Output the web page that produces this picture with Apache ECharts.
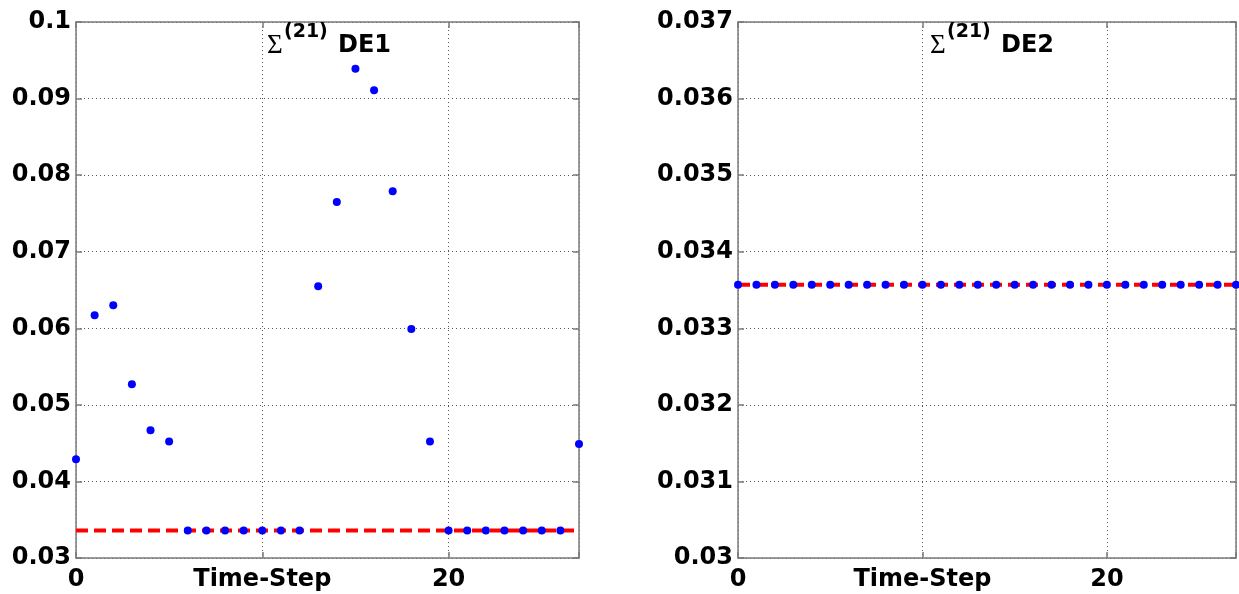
<!DOCTYPE html>
<html>
<head>
<meta charset="utf-8">
<script src="https://cdn.jsdelivr.net/npm/echarts@6/dist/echarts.min.js"></script>
<style>
html,body{margin:0;padding:0;background:#fff;}
#chart{width:1239px;height:594px;}
</style>
</head>
<body>
<div id="chart"></div>
<script>
// ---- data ----
var timeSteps = [0,1,2,3,4,5,6,7,8,9,10,11,12,13,14,15,16,17,18,19,20,21,22,23,24,25,26,27];
var de1Values = [0.0429,0.0617,0.0630,0.0527,0.0467,0.0452,0.0336,0.0336,0.0336,0.0336,0.0336,0.0336,0.0336,
                 0.0655,0.0765,0.0939,0.0911,0.0779,0.0599,0.0452,0.0336,0.0336,0.0336,0.0336,0.0336,0.0336,0.0336,0.0449];
var de2Values = [0.03357,0.03357,0.03357,0.03357,0.03357,0.03357,0.03357,0.03357,0.03357,0.03357,0.03357,0.03357,0.03357,0.03357,
                 0.03357,0.03357,0.03357,0.03357,0.03357,0.03357,0.03357,0.03357,0.03357,0.03357,0.03357,0.03357,0.03357,0.03357];
var de1Reference = [0.0336, 0.0336];
var de2Reference = [0.03357, 0.03357];
var referenceSteps = [0, 27];
var xTickValues = [0, 10, 20];
var xTickLabels = ['0', 'Time-Step', '20'];
var panelTitles = ['DE1', 'DE2'];
var sigmaSymbol = 'Σ';
var sigmaSup = '(21)';

// ---- chart ----
var FONT = 'DejaVu Sans';
var axisColor = '#7a7a7a';

function pairs(xs, ys) { return ys.map(function (v, i) { return [xs[i], v]; }); }
function yFmt(v) { return String(parseFloat(v.toFixed(4))); }
function xFmt(v) {
  var idx = xTickValues.indexOf(Math.round(v));
  return (idx >= 0 && Math.abs(v - xTickValues[idx]) < 1e-9) ? xTickLabels[idx] : '';
}

var grids = [
  { left: 76, right: 660, top: 22, bottom: 36 },
  { left: 738, right: -2, top: 22, bottom: 36 }
];
var yRanges = [
  { min: 0.03, max: 0.1, interval: 0.01 },
  { min: 0.03, max: 0.037, interval: 0.001 }
];

var xAxes = [], yAxes = [], series = [], graphics = [];
grids.forEach(function (g, gi) {
  var axLine = { show: true, onZero: false, lineStyle: { color: axisColor, width: 1.5 } };
  var tick = { show: true, inside: true, length: 6, lineStyle: { color: axisColor, width: 1.5 } };
  xAxes.push({
    type: 'value', gridIndex: gi, position: 'bottom', min: 0, max: 27, interval: 10,
    axisLine: axLine, axisTick: tick,
    splitLine: { show: true, lineStyle: { color: '#555', type: [1, 3], width: 1 } },
    axisLabel: { show: true, color: '#000', fontFamily: FONT, fontWeight: 'bold', fontSize: 24, margin: 10,
                 formatter: xFmt, showMaxLabel: true, showMinLabel: true, hideOverlap: false }
  });
  xAxes.push({
    type: 'value', gridIndex: gi, position: 'top', min: 0, max: 27, interval: 10,
    axisLine: axLine, axisTick: tick, splitLine: { show: false }, axisLabel: { show: false }
  });
  var r = yRanges[gi];
  yAxes.push({
    type: 'value', gridIndex: gi, position: 'left', min: r.min, max: r.max, interval: r.interval,
    axisLine: axLine, axisTick: tick,
    splitLine: { show: true, lineStyle: { color: '#555', type: [1, 3], width: 1 } },
    axisLabel: { show: true, color: '#000', fontFamily: FONT, fontWeight: 'bold', fontSize: 24, margin: 5,
                 formatter: yFmt, showMaxLabel: true, showMinLabel: true }
  });
  yAxes.push({
    type: 'value', gridIndex: gi, position: 'right', min: r.min, max: r.max, interval: r.interval,
    axisLine: axLine, axisTick: tick, splitLine: { show: false }, axisLabel: { show: false }
  });
});

series.push({
  type: 'line', xAxisIndex: 0, yAxisIndex: 0, data: pairs(referenceSteps, de1Reference),
  showSymbol: false, symbol: 'none', z: 2, silent: true,
  lineStyle: { color: '#ff0000', width: 4, type: [12, 6] }
});
series.push({
  type: 'scatter', xAxisIndex: 0, yAxisIndex: 0, data: pairs(timeSteps, de1Values),
  symbol: 'circle', symbolSize: 8, z: 3, itemStyle: { color: '#0000ff', opacity: 1 }
});
series.push({
  type: 'line', xAxisIndex: 2, yAxisIndex: 2, data: pairs(referenceSteps, de2Reference),
  showSymbol: false, symbol: 'none', z: 2, silent: true,
  lineStyle: { color: '#ff0000', width: 4, type: [12, 6] }
});
series.push({
  type: 'scatter', xAxisIndex: 2, yAxisIndex: 2, data: pairs(timeSteps, de2Values),
  symbol: 'circle', symbolSize: 8, z: 3, itemStyle: { color: '#0000ff', opacity: 1 }, clip: false
});

// panel titles: Σ^(21) DEn
var titleStarts = [267, 930];
panelTitles.forEach(function (t, i) {
  var x0 = titleStarts[i];
  graphics.push({
    type: 'text', x: x0, y: 46, z: 100,
    style: { text: sigmaSymbol, fontFamily: 'Liberation Serif', fontWeight: 'normal', fontSize: 27,
             fill: '#000', align: 'left', verticalAlign: 'middle' }
  });
  graphics.push({
    type: 'text', x: x0 + 17, y: 32, z: 100,
    style: { text: sigmaSup, fontFamily: FONT, fontWeight: 'bold', fontSize: 19,
             fill: '#000', align: 'left', verticalAlign: 'middle' }
  });
  graphics.push({
    type: 'text', x: x0 + 71, y: 46, z: 100,
    style: { text: t, fontFamily: FONT, fontWeight: 'bold', fontSize: 24,
             fill: '#000', align: 'left', verticalAlign: 'middle' }
  });
});

var chart = echarts.init(document.getElementById('chart'), null, { renderer: 'canvas' });
chart.setOption({
  animation: false,
  backgroundColor: '#ffffff',
  grid: grids,
  xAxis: xAxes,
  yAxis: yAxes,
  series: series,
  graphic: graphics
});
</script>
</body>
</html>
